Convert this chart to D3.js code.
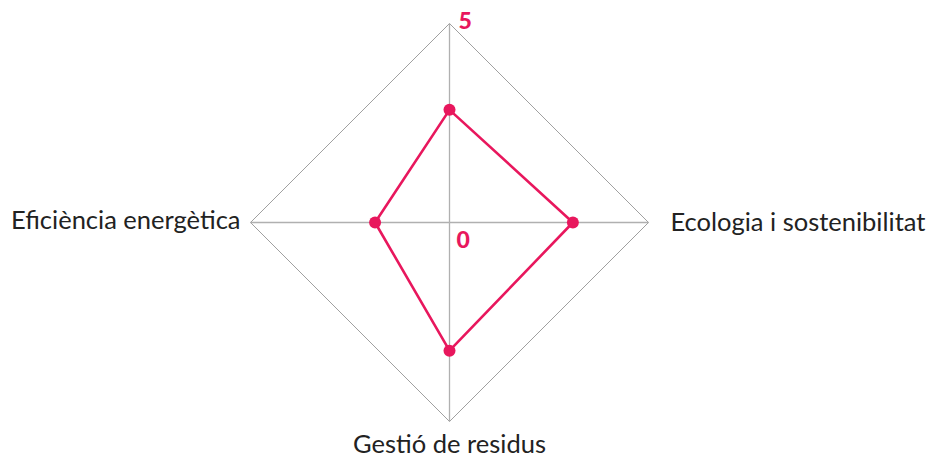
<!DOCTYPE html>
<html>
<head>
<meta charset="utf-8">
<script src="https://cdn.jsdelivr.net/npm/d3@7"></script>
<style>
  body { margin: 0; background: #fff; }
  svg { display: block; font-family: Lato, "Open Sans", sans-serif; }
</style>
</head>
<body>
<svg id="chart" width="932" height="456"></svg>
<script>
// axes clockwise from the top
const categories = ['', 'Ecologia i sostenibilitat', 'Gestió de residus', 'Eficiència energètica'];
const values = [2.83, 3.1, 3.22, 1.87];
const scaleMax = 5;
const tickLabels = ['0', '5'];

const cx = 449.5, cy = 222.5, radius = 199;
const pink = '#e8175d';

const svg = d3.select('#chart');
const g = svg.append('g').attr('transform', `translate(${cx}, ${cy})`);

const r = d3.scaleLinear().domain([0, scaleMax]).range([0, radius]);
const angle = d3.scaleLinear().domain([0, categories.length]).range([0, 2 * Math.PI]);

const pt = (i, v) => {
  const a = angle(i);
  return [Math.sin(a) * r(v), -Math.cos(a) * r(v)];
};

// outer ring
g.append('path')
  .datum(categories.map((c, i) => pt(i, scaleMax)))
  .attr('d', d3.line().curve(d3.curveLinearClosed))
  .attr('fill', 'none')
  .attr('stroke', '#a0a0a0')
  .attr('stroke-width', 1);

// spokes
g.selectAll('line.spoke')
  .data(categories)
  .enter()
  .append('line')
  .attr('class', 'spoke')
  .attr('x1', 0).attr('y1', 0)
  .attr('x2', (d, i) => pt(i, scaleMax)[0])
  .attr('y2', (d, i) => pt(i, scaleMax)[1])
  .attr('stroke', '#b0b0b0')
  .attr('stroke-width', 1.3);

// data polygon
g.append('path')
  .datum(values.map((v, i) => pt(i, v)))
  .attr('d', d3.line().curve(d3.curveLinearClosed))
  .attr('fill', 'none')
  .attr('stroke', pink)
  .attr('stroke-width', 2.6)
  .attr('stroke-linejoin', 'round');

g.selectAll('circle.dot')
  .data(values)
  .enter()
  .append('circle')
  .attr('class', 'dot')
  .attr('cx', (d, i) => pt(i, d)[0])
  .attr('cy', (d, i) => pt(i, d)[1])
  .attr('r', 6)
  .attr('fill', pink);

// scale labels
g.append('text')
  .attr('x', 7).attr('y', 25)
  .attr('fill', pink)
  .attr('font-weight', 900)
  .attr('font-size', 23)
  .text(tickLabels[0]);

g.append('text')
  .attr('x', 9).attr('y', r(scaleMax) * -1 + 5)
  .attr('fill', pink)
  .attr('font-weight', 900)
  .attr('font-size', 23)
  .text(tickLabels[1]);

// category labels
const labelPos = [
  { dx: 0, dy: -10, anchor: 'middle' },
  { dx: 22, dy: 8, anchor: 'start' },
  { dx: 0, dy: 31, anchor: 'middle' },
  { dx: -10, dy: 6, anchor: 'end' },
];

g.selectAll('text.cat')
  .data(categories)
  .enter()
  .append('text')
  .attr('class', 'cat')
  .attr('x', (d, i) => pt(i, scaleMax)[0] + labelPos[i].dx)
  .attr('y', (d, i) => pt(i, scaleMax)[1] + labelPos[i].dy)
  .attr('text-anchor', (d, i) => labelPos[i].anchor)
  .attr('font-size', 25.5)
  .attr('fill', '#222')
  .text(d => d);
</script>
</body>
</html>
